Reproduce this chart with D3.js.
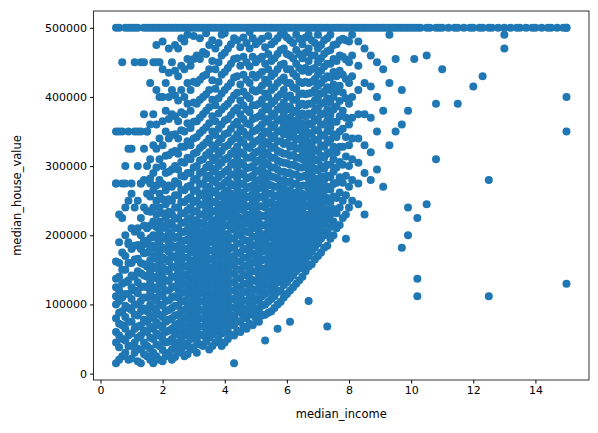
<!DOCTYPE html>
<html>
<head>
<meta charset="utf-8">
<script src="https://cdn.jsdelivr.net/npm/d3@7"></script>
<style>
  body { margin: 0; background: #fff; }
  text { font-family: "DejaVu Sans", sans-serif; }
</style>
</head>
<body>
<div id="container"></div>
<script>
/* DATA: median_income columns with median_house_value (thousands) */
const incomeColumns = [0.5,0.7,0.9,1.1,1.3,1.5,1.7,1.9,2.1,2.3,2.5,2.7,2.9,3.1,3.3,3.5,3.7,3.9,4.1,4.3,4.5,4.7,4.9,5.1,5.3,5.5,5.7,5.9,6.1,6.3,6.5,6.7,6.9,7.1,7.3,7.5,7.7,7.9,8.1,8.3,8.5,8.7,8.9,9.1,9.3,9.5,9.7,9.9,10.1,10.2,10.5,10.8,11.0,11.5,12.0,12.3,12.5,13.0,13.5,14.0,14.5,15.0];
const valueColumns = [
  [15,45,60,80,100,112,125,137,162,275,350,500],
  [25,50,70,90,110,130,150,175,225,275,350],
  [20,40,55,75,95,115,135,160,190,250,325,500],
  [30,45,65,85,100,120,140,165,185,205,240,350,500],
  [15,35,55,70,90,105,125,145,160,180,200,225,275,350,450],
  [25,40,60,75,90,110,125,140,155,175,190,210,235,260,300,350,500],
  [15,30,50,65,80,95,110,125,140,155,170,185,200,220,240,265,290,330,375,450,500],
  [20,40,55,70,85,100,115,130,145,160,175,190,205,220,240,260,280,310,340,400,450,500],
  [25,45,60,75,90,105,120,135,150,165,180,195,210,225,245,265,290,315,350,380,420,500],
  [20,35,50,65,80,95,110,125,140,155,170,185,200,215,230,250,270,295,320,345,375,410,450,500],
  [30,45,60,72,85,98,110,122,135,148,160,172,185,198,210,225,240,258,275,295,318,340,365,395,430,470,500],
  [25,40,55,68,80,92,105,118,130,142,155,168,180,192,205,218,232,248,265,285,305,328,350,375,400,440,480,500],
  [35,50,62,75,88,100,112,125,138,150,162,175,188,200,212,225,240,255,272,290,310,330,355,380,410,445,500],
  [30,48,60,72,85,97,110,122,135,147,160,172,185,197,210,222,235,250,265,282,300,320,342,365,390,420,460,500],
  [40,55,68,80,92,105,118,130,142,155,168,180,192,205,218,230,245,260,275,292,310,330,352,375,400,430,465,500],
  [35,52,65,78,90,102,115,128,140,152,165,178,190,202,215,228,242,256,270,286,302,320,340,362,385,410,440,475,500],
  [45,60,72,85,98,110,122,135,148,160,172,185,198,210,222,235,248,262,277,292,308,325,345,365,388,412,440,470,500],
  [40,58,70,82,95,108,120,132,145,158,170,182,195,208,220,232,245,258,272,288,305,322,340,360,382,405,432,460,490,500],
  [50,65,78,90,102,115,128,140,152,165,178,190,202,215,228,240,252,265,280,295,312,330,348,368,390,415,442,470,500],
  [15,55,70,82,95,108,120,132,145,158,170,182,195,208,220,232,245,258,272,288,305,322,340,360,380,402,428,455,485,500],
  [60,75,88,100,112,125,138,150,162,175,188,200,212,225,238,250,262,275,290,305,320,338,355,375,395,418,445,472,500],
  [65,80,92,105,118,130,142,155,168,180,192,205,218,230,242,255,268,282,297,312,328,345,362,382,402,425,450,478,500],
  [70,85,98,110,122,135,148,160,172,185,198,210,222,235,248,260,272,286,300,315,332,350,368,388,410,432,458,485,500],
  [75,90,105,118,130,142,155,168,180,192,205,218,230,242,255,268,280,294,308,322,338,355,372,390,410,432,455,480,500],
  [48,85,100,115,128,140,152,165,178,190,202,215,228,240,252,265,278,290,305,320,335,350,368,386,405,425,448,472,500],
  [90,108,122,135,148,160,172,185,198,210,222,235,248,260,272,285,298,312,326,340,356,372,390,410,430,452,476,500],
  [65,100,118,132,145,158,170,182,195,208,220,232,245,258,270,282,295,308,322,336,350,366,382,400,420,440,462,485,500],
  [110,128,142,155,168,180,192,205,218,230,242,255,268,280,292,305,318,332,346,360,376,392,410,428,448,470,492,500],
  [75,120,138,152,165,178,190,202,215,228,240,252,265,278,290,302,315,328,342,356,370,386,402,420,440,460,482,500],
  [130,148,162,175,188,200,212,225,238,250,262,275,288,300,312,325,338,352,366,380,396,412,430,448,468,490,500],
  [140,158,172,185,198,210,222,235,248,260,272,285,298,310,322,335,348,362,376,390,405,420,438,456,476,500],
  [105,155,170,185,200,215,228,242,255,268,282,295,308,322,335,348,362,376,390,405,420,436,452,470,490,500],
  [165,182,198,212,226,240,254,268,282,296,310,324,338,352,366,380,395,410,426,442,460,478,500],
  [175,195,210,225,240,255,270,285,300,315,330,345,360,375,390,405,420,438,456,475,500],
  [68,185,205,222,238,254,270,286,302,318,334,350,366,382,398,414,430,448,466,485,500],
  [200,220,238,256,274,292,310,328,346,364,382,400,418,436,455,475,500],
  [215,240,262,284,306,328,350,372,394,416,438,460,482,500],
  [195,230,258,286,314,342,370,398,426,454,482,500],
  [250,280,310,340,370,400,430,460,490,500],
  [245,275,305,340,375,410,445,480,500],
  [230,290,330,375,420,470,500],
  [280,320,370,415,460,500],
  [295,350,400,450,500],
  [270,380,440,500],
  [330,420,490,500],
  [350,455,500],
  [182,360,410,500],
  [240,200,380,500],
  [455,500],
  [137,112,225,500],
  [245,500,460],
  [390,310,500],
  [440,500],
  [390,500],
  [415,500],
  [430,500],
  [280,112,500],
  [470,490,500],
  [500],
  [500],
  [500],
  [500,400,350,130,500]
];
// staggered columns filling the dense core
const fillIncomes = [0.6,0.8,1.0,1.2,1.4,1.6,1.8,2.0,2.2,2.4,2.6,2.8,3.0,3.2,3.4,3.6,3.8,4.0,4.2,4.4,4.6,4.8,5.0,5.2,5.4,5.6,5.8,6.0,6.2,6.4,6.6,6.8,7.0,7.2,7.4,7.6,7.8,8.0];
const fillValues = [
  [20,38,55,72,88,105,120,140,160,190,230],
  [30,48,65,82,98,115,132,150,170,200,240,300],
  [22,40,58,75,92,108,125,142,160,180,210,260,325],
  [18,36,52,68,84,100,116,132,148,166,186,210,250,300],
  [28,45,62,78,94,110,126,142,158,174,192,214,240,280,325,375],
  [20,36,52,68,84,100,116,132,148,164,180,196,214,234,256,282,310,360,420],
  [25,42,58,74,90,106,122,138,152,166,180,196,212,230,250,272,298,325,360,410,475],
  [18,34,50,66,82,98,112,126,140,154,168,182,198,214,232,252,274,300,330,365,400,440,480],
  [30,46,62,78,92,106,120,134,148,162,176,190,204,218,234,252,272,292,316,340,368,400,435,470],
  [24,40,56,70,84,98,112,126,140,154,168,182,196,210,224,240,258,278,300,322,346,372,402,438,475],
  [35,50,64,78,90,104,116,128,140,152,164,176,190,204,218,232,248,266,286,306,328,352,378,410,445,485],
  [28,44,58,70,82,96,108,120,132,144,156,168,180,194,208,222,236,252,270,290,312,336,362,390,420,455,490],
  [38,54,66,80,92,104,116,128,140,152,164,178,192,206,220,234,248,264,280,298,318,340,364,392,422,455,488],
  [42,56,68,80,92,104,116,128,140,152,164,176,188,202,216,230,244,258,274,290,308,326,348,370,396,425,455,485],
  [46,60,74,86,98,110,122,134,146,158,170,184,198,212,226,238,252,266,282,298,316,334,356,380,404,432,462,492],
  [40,56,70,82,94,106,118,130,142,154,166,178,192,206,220,234,248,264,280,296,312,330,350,372,396,424,452,482],
  [50,64,78,90,102,114,126,138,150,162,176,190,204,216,228,242,256,270,284,300,316,334,354,376,398,422,450,478],
  [45,60,74,88,100,112,124,136,148,160,172,186,200,214,226,238,250,262,276,292,310,328,346,366,386,410,436,464,492],
  [56,72,84,96,108,120,132,144,156,168,182,196,210,224,236,248,260,274,288,302,318,336,354,374,396,420,448,476],
  [62,76,90,102,114,126,138,150,162,174,188,202,216,228,240,254,268,282,296,312,328,346,364,384,406,430,456,482],
  [68,82,94,106,118,130,144,156,168,180,194,208,222,236,248,260,274,288,302,318,334,350,368,388,408,432,458,486],
  [72,88,100,114,126,138,150,162,176,190,204,216,228,242,256,270,284,298,312,326,342,360,378,398,420,444,470,494],
  [80,94,108,120,134,148,162,174,186,198,212,226,238,250,264,278,292,306,320,336,352,370,388,408,428,450,476],
  [84,98,112,124,136,150,164,176,188,200,214,228,242,256,270,284,298,312,328,344,360,378,396,416,436,458,484],
  [88,104,118,130,144,156,168,182,196,208,220,232,246,260,274,288,302,316,332,348,364,382,400,420,440,462,488],
  [95,112,126,140,154,166,178,190,204,216,228,242,256,270,284,298,312,328,344,360,376,394,414,434,456,480],
  [104,120,136,150,162,174,186,200,214,226,238,250,264,278,292,306,320,336,352,368,386,404,424,446,468,490],
  [115,132,146,160,172,186,198,210,224,236,248,262,276,290,304,318,334,350,366,382,400,420,440,462,486],
  [125,142,156,170,184,196,208,220,234,246,260,274,288,302,316,330,346,362,378,396,414,434,456,478],
  [135,152,166,180,194,206,218,230,244,256,270,284,298,312,326,340,356,372,388,404,422,442,462,484],
  [148,164,178,192,206,218,230,244,258,272,286,300,314,328,342,356,372,388,404,422,442,464,486],
  [158,176,192,206,220,234,248,262,276,290,304,318,332,346,360,374,390,406,422,440,460,482],
  [170,188,204,218,232,248,262,278,294,308,322,338,352,368,384,400,416,432,450,470,490],
  [182,200,216,232,248,264,280,296,312,328,344,360,376,392,408,426,444,462,482],
  [195,212,230,248,266,284,302,320,338,356,374,392,410,428,448,468,490],
  [210,232,254,276,298,320,342,364,386,408,430,452,476],
  [225,250,276,302,328,354,380,406,432,458,484],
  [240,270,300,330,360,390,420,450,480]
];
// capped values along the 500001 line
const capIncomes = [0.6,0.8,1.0,1.2,1.4,1.6,1.8,2.0,2.2,2.4,2.6,2.8,3.0,3.2,3.4,3.6,3.8,4.0,4.2,4.4,4.6,4.8,5.0,5.2,5.4,5.6,5.8,6.0,6.2,6.4,6.6,6.8,7.0,7.2,7.4,7.6,7.8,8.0,8.2,8.4,8.6,8.8,9.0,9.2,9.4,9.6,9.8,10.0,10.3,10.6,10.9,11.2,11.4,11.7,11.9,12.2,12.6,12.8,13.2,13.4,13.7,13.9,14.2,14.4,14.7,14.9];
// horizontal clusters at common round values
const roundIncomes = [0.6,0.9,1.2,1.5,0.7,1.1,1.4,1.8,0.5,0.8,1.0,1.3,1.6,0.9,1.4];
const roundValues = [350,350,350,350,450,450,450,450,275,275,275,275,275,187,187];

const points = [];
incomeColumns.forEach((x, i) => valueColumns[i].forEach((v) => points.push({ income: x, value: v * 1000 })));
fillIncomes.forEach((x, i) => fillValues[i].forEach((v) => points.push({ income: x, value: v * 1000 })));
capIncomes.forEach((x) => points.push({ income: x, value: 500001 }));
roundIncomes.forEach((x, i) => points.push({ income: x, value: roundValues[i] * 1000 }));

/* LAYOUT */
const width = 598, height = 433;
const margin = { top: 11, left: 93.5, right: 9, bottom: 53 };

const xScale = d3.scaleLinear()
  .domain([-0.225, 15.725])
  .range([margin.left, width - margin.right]);
const yScale = d3.scaleLinear()
  .domain([-9250, 524250])
  .range([height - margin.bottom, margin.top]);

const svg = d3.select("#container").append("svg")
  .attr("width", width).attr("height", height);

svg.append("g").selectAll("circle")
  .data(points)
  .join("circle")
  .attr("cx", (d) => xScale(d.income))
  .attr("cy", (d) => yScale(d.value))
  .attr("r", 4)
  .attr("fill", "#1f77b4");

// frame
svg.append("rect")
  .attr("x", margin.left).attr("y", margin.top)
  .attr("width", width - margin.left - margin.right)
  .attr("height", height - margin.top - margin.bottom)
  .attr("fill", "none").attr("stroke", "#000").attr("stroke-width", 0.8);

const xAxis = svg.append("g")
  .attr("transform", `translate(0,${height - margin.bottom})`)
  .call(d3.axisBottom(xScale).tickValues([0,2,4,6,8,10,12,14]).tickSize(3.5).tickPadding(3).tickFormat(d3.format("d")));
const yAxis = svg.append("g")
  .attr("transform", `translate(${margin.left},0)`)
  .call(d3.axisLeft(yScale).tickValues([0,100000,200000,300000,400000,500000]).tickSize(3.5).tickPadding(3).tickFormat(d3.format("d")));
[xAxis, yAxis].forEach((g) => {
  g.select(".domain").remove();
  g.selectAll("text").attr("font-size", 11).attr("font-family", "DejaVu Sans").attr("fill", "#000");
});

svg.append("text")
  .attr("x", (margin.left + width - margin.right) / 2)
  .attr("y", height - 15)
  .attr("text-anchor", "middle")
  .attr("font-size", 11.5)
  .text("median_income");
svg.append("text")
  .attr("transform", `translate(21,${(margin.top + height - margin.bottom) / 2}) rotate(-90)`)
  .attr("text-anchor", "middle")
  .attr("font-size", 11.5)
  .text("median_house_value");
</script>
</body>
</html>
